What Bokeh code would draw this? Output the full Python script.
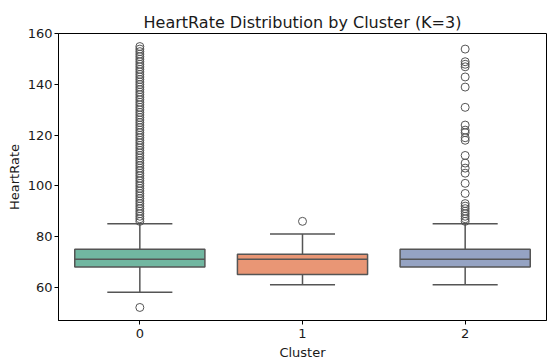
from bokeh.plotting import figure
from bokeh.models import Range1d, FixedTicker, ColumnDataSource
from bokeh.embed import file_html
from bokeh.resources import INLINE

# ---- data ----
clusters = [0, 1, 2]
cluster_labels = ["0", "1", "2"]
q1 = [68, 65, 68]
median = [71, 71, 71]
q3 = [75, 73, 75]
whisker_low = [58, 61, 61]
whisker_high = [85, 81, 85]
box_colors = ["#71b7a1", "#e99675", "#95a3c3"]

outliers_0 = [52] + list(range(86, 156))
outliers_1 = [86]
outliers_2 = [154, 149, 148, 147, 143, 139, 131, 124, 122, 121, 119, 118,
              112, 109, 107, 105, 101, 97, 93, 92, 91, 90, 89, 88, 87, 86]
y_ticks = [60, 80, 100, 120, 140, 160]

LINE = "#555555"
FONT = "DejaVu Sans"
TXT = "#1a1a1a"
box_width = 0.8
cap_width = 0.4

p = figure(frame_width=488, frame_height=287, output_backend="svg", toolbar_location=None,
           x_range=Range1d(-0.5, 2.5), y_range=Range1d(46.85, 160.15),
           title="HeartRate Distribution by Cluster (K=3)",
           min_border_left=58, min_border_right=4, min_border_top=33, min_border_bottom=40)

p.title.align = "center"
p.title.text_font = FONT
p.title.text_font_size = "16px"
p.title.text_font_style = "normal"
p.title.text_color = TXT
p.title.standoff = 4

p.xgrid.visible = False
p.ygrid.visible = False
p.outline_line_color = "black"
p.outline_line_width = 1
p.background_fill_color = "white"

src = ColumnDataSource(dict(
    x=clusters, q1=q1, q3=q3, med=median, lo=whisker_low, hi=whisker_high,
    color=box_colors,
    x0=[c - box_width / 2 for c in clusters], x1=[c + box_width / 2 for c in clusters],
    c0=[c - cap_width / 2 for c in clusters], c1=[c + cap_width / 2 for c in clusters],
))

# whiskers
p.segment(x0="x", y0="q3", x1="x", y1="hi", source=src, line_color=LINE, line_width=1.5)
p.segment(x0="x", y0="q1", x1="x", y1="lo", source=src, line_color=LINE, line_width=1.5)
# caps
p.segment(x0="c0", y0="hi", x1="c1", y1="hi", source=src, line_color=LINE, line_width=1.5)
p.segment(x0="c0", y0="lo", x1="c1", y1="lo", source=src, line_color=LINE, line_width=1.5)
# boxes
p.vbar(x="x", width=box_width, bottom="q1", top="q3", source=src,
       fill_color="color", line_color=LINE, line_width=1.5)
# medians
p.segment(x0="x0", y0="med", x1="x1", y1="med", source=src, line_color=LINE, line_width=1.5)

# outliers
for c, vals in zip(clusters, [outliers_0, outliers_1, outliers_2]):
    p.scatter([c] * len(vals), vals, marker="circle", size=8,
              fill_color=None, line_color=LINE, line_width=1)

for ax in (p.xaxis, p.yaxis):
    ax.axis_line_color = "black"
    ax.major_tick_line_color = "black"
    ax.major_tick_out = 4
    ax.major_tick_in = 0
    ax.minor_tick_line_color = None
    ax.major_label_text_font = FONT
    ax.major_label_text_font_size = "13px"
    ax.major_label_text_color = TXT
    ax.axis_label_text_font = FONT
    ax.axis_label_text_font_size = "13px"
    ax.axis_label_text_font_style = "normal"
    ax.axis_label_text_color = TXT
    ax.major_label_standoff = 2
    ax.axis_label_standoff = 3

p.xaxis.major_label_standoff = 4
p.xaxis.axis_label_standoff = 4

p.xaxis.axis_label = "Cluster"
p.yaxis.axis_label = "HeartRate"
p.xaxis.ticker = FixedTicker(ticks=clusters)
p.xaxis.major_label_overrides = {c: l for c, l in zip(clusters, cluster_labels)}
p.yaxis.ticker = FixedTicker(ticks=y_ticks)

open("out.html", "w").write(file_html(p, INLINE))
